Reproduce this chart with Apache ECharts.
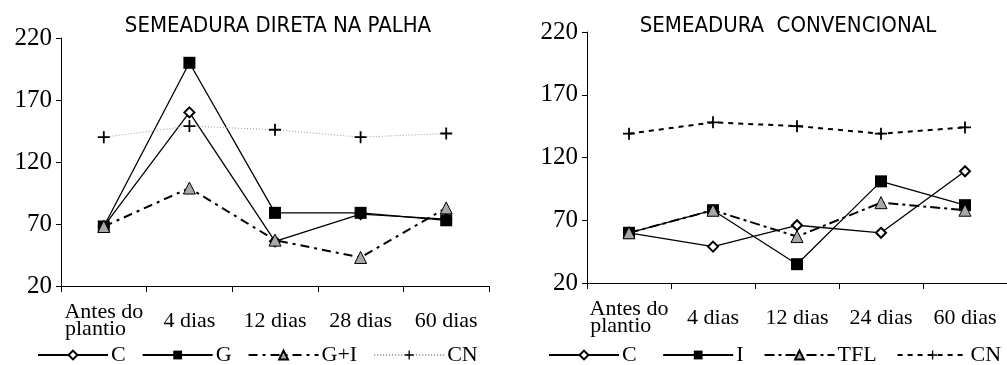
<!DOCTYPE html>
<html>
<head>
<meta charset="utf-8">
<script src="https://cdn.jsdelivr.net/npm/echarts@6/dist/echarts.min.js"></script>
<style>
    html, body { margin: 0; padding: 0; background: #fff; }
    #chart { width: 1007px; height: 365px; }
</style>
</head>
<body>
<div id="chart"></div>
<script>
// categorias
const catLeft = ['Antes do\nplantio', '4 dias', '12 dias', '28 dias', '60 dias'];
const catRight = ['Antes do\nplantio', '4 dias', '12 dias', '24 dias', '60 dias'];
const yTicks = [20, 70, 120, 170, 220];

// semeadura direta na palha
const directC = [68, 160, 56, 78, 74];
const directG = [68, 200, 79, 79, 73];
const directGI = [68, 99, 57, 43, 83];
const directCN = [140, 149, 146, 140, 143];

// semeadura convencional
const convC = [60, 49, 66, 60, 109];
const convI = [60, 78, 35, 101, 82];
const convTFL = [60, 78, 57, 84, 78];
const convCN = [139, 148, 145, 139, 144];

const serif = '"Liberation Serif", "Times New Roman", serif';
const narrow = '"Liberation Sans Narrow", "DejaVu Sans Condensed", "Arial Narrow", sans-serif';
const plus = 'path://M0,8.5H20V11.5H0Z M8.5,0H11.5V20H8.5Z';

const yAxis = (idx) => ({
    gridIndex: idx,
    type: 'value',
    min: yTicks[0],
    max: yTicks[yTicks.length - 1],
    interval: 50,
    splitLine: { show: false },
    axisLine: { show: true, lineStyle: { color: '#000', width: 1 } },
    axisTick: { show: true, length: 5, lineStyle: { color: '#000' } },
    axisLabel: { color: '#000', fontFamily: serif, fontSize: 25, margin: 9 }
});

const xAxis = (idx, data) => ({
    gridIndex: idx,
    type: 'category',
    data: data,
    boundaryGap: true,
    axisLine: { lineStyle: { color: '#000', width: 1 } },
    axisTick: { show: true, length: 6, lineStyle: { color: '#000' } },
    axisLabel: {
        color: '#000', fontFamily: serif, fontSize: 22, lineHeight: 17,
        margin: 35, verticalAlign: 'middle', interval: 0,
        formatter: v => v.replace('plantio', 'plantio   ')
    }
});

const lineSeries = (name, idx, data, opts) => Object.assign({
    name: name,
    type: 'line',
    xAxisIndex: idx,
    yAxisIndex: idx,
    data: data,
    animation: false,
    showAllSymbol: true
}, opts);

const styleC = {
    symbol: 'emptyDiamond', symbolSize: 10,
    lineStyle: { color: '#000', width: 1.3 },
    itemStyle: { color: '#000', borderColor: '#000', borderWidth: 1.3 }
};
const styleSq = {
    symbol: 'rect', symbolSize: 12,
    lineStyle: { color: '#000', width: 1.3 },
    itemStyle: { color: '#000' }
};
const styleTri = (dash) => ({
    symbol: 'triangle', symbolSize: 12,
    lineStyle: { color: '#000', width: 2, type: dash },
    itemStyle: { color: '#a8a8a8', borderColor: '#000', borderWidth: 1 }
});
const legendText = { color: '#000', fontFamily: serif, fontSize: 22, lineHeight: 22, padding: [0, 0, 0, -2] };

const myChart = echarts.init(document.getElementById('chart'));
myChart.setOption({
    animation: false,
    title: [{
        text: 'SEMEADURA DIRETA NA PALHA',
        left: 273, top: 10, textAlign: 'center',
        textStyle: { color: '#000', fontFamily: narrow, fontWeight: 'normal', fontSize: 22 }
    }, {
        text: 'SEMEADURA  CONVENCIONAL',
        left: 783, top: 10, textAlign: 'center',
        textStyle: { color: '#000', fontFamily: narrow, fontWeight: 'normal', fontSize: 22 }
    }],
    legend: [{
        data: ['C', 'G', 'G+I', 'CN'],
        left: 37, top: 344, padding: 0,
        itemWidth: 70, itemHeight: 11, itemGap: 16,
        textStyle: legendText
    }, {
        data: ['C ', 'I', 'TFL', 'CN '],
        left: 548, top: 344, padding: 0,
        itemWidth: 70, itemHeight: 11, itemGap: 20,
        textStyle: legendText
    }],
    grid: [
        { left: 61, top: 38, width: 428, height: 248 },
        { left: 587, top: 32, width: 426, height: 251 }
    ],
    xAxis: [xAxis(0, catLeft), xAxis(1, catRight)],
    yAxis: [yAxis(0), yAxis(1)],
    series: [
        lineSeries('C', 0, directC, styleC),
        lineSeries('G', 0, directG, styleSq),
        lineSeries('G+I', 0, directGI, styleTri([9, 5, 3, 5])),
        lineSeries('CN', 0, directCN, {
            symbol: plus, symbolSize: 12,
            lineStyle: { color: '#999', width: 1, type: [1, 2] },
            itemStyle: { color: '#000' }
        }),
        lineSeries('C ', 1, convC, styleC),
        lineSeries('I', 1, convI, styleSq),
        lineSeries('TFL', 1, convTFL, styleTri([10, 4, 3, 4])),
        lineSeries('CN ', 1, convCN, {
            symbol: plus, symbolSize: 12,
            lineStyle: { color: '#000', width: 2, type: [5, 5] },
            itemStyle: { color: '#000' }
        })
    ]
});
</script>
</body>
</html>
